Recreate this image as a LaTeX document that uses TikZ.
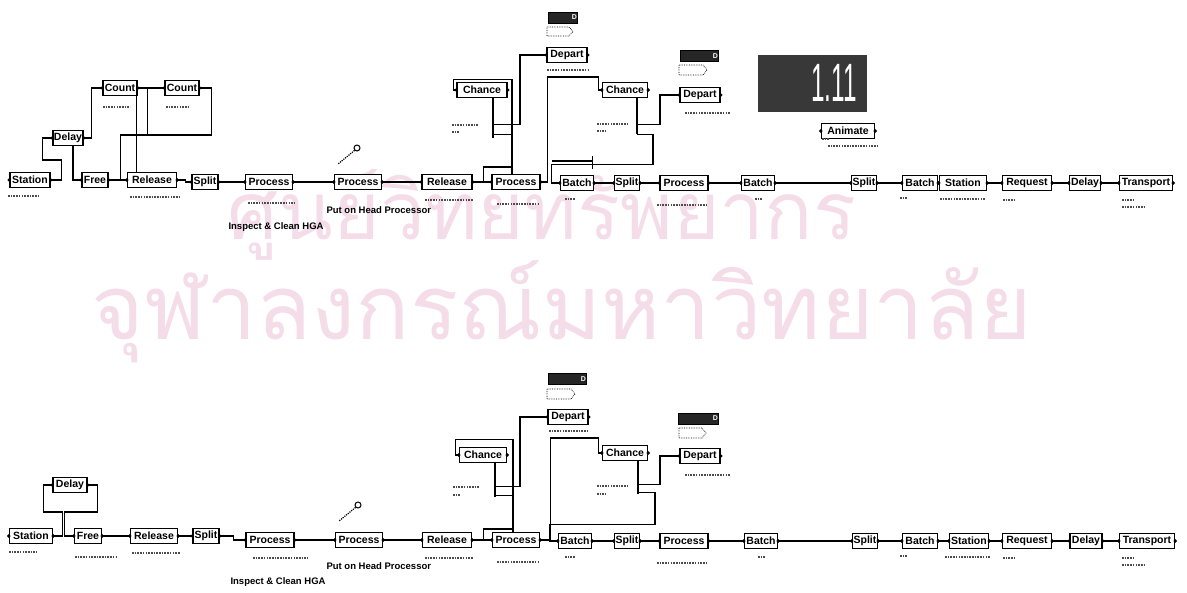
\documentclass[tikz,border=0pt]{standalone}
\usepackage{fontspec}
\setmainfont{Liberation Sans}
\newfontfamily\thaifont[Script=Thai]{Loma}
\usetikzlibrary{calc}
\definecolor{wmpink}{RGB}{244,221,233}
\tikzset{
  modbox/.style={draw,line width=1.5pt,fill=white,minimum height=15pt,inner xsep=0pt,inner ysep=1pt,
    font=\fontsize{10.5}{11}\selectfont\bfseries},
  lnk/.style={line width=1.2pt},
  smear/.style={line width=2.4pt,black!70,dash pattern=on 1.6pt off 1.1pt},
  darkbar/.style={fill=black!85,draw=black,inner sep=0pt,minimum height=11pt,text=white,align=right,
    font=\fontsize{7}{7}\selectfont\bfseries},
  tagline/.style={line width=0.7pt,densely dotted},
  undertext/.style={font=\fontsize{9.5}{10}\selectfont\bfseries},
  wm/.style={text=wmpink,anchor=base,font=\thaifont}
}

\begin{document}
\begin{tikzpicture}[x=1pt,y=-1pt]
\useasboundingbox (0,0) rectangle (1187,593);
% watermark
\node[wm,font=\thaifont\fontsize{80}{80}\selectfont] (wm1) at (542,240) {ศูนย์วิทยทรัพยากร};
\node[wm,font=\thaifont\fontsize{90}{90}\selectfont] (wm2) at (562,340) {จุฬาลงกรณ์มหาวิทยาลัย};

% ---------- upper model ----------
\node[modbox,minimum width=40] (sta1) at (30,180) {Station};
\node[modbox,minimum width=30] (dly1) at (68,138) {Delay};
\node[modbox,minimum width=34] (cnt1) at (120,88) {Count};
\node[modbox,minimum width=34] (cnt2) at (182,88) {Count};
\node[modbox,minimum width=26] (fre1) at (95,180) {Free};
\node[modbox,minimum width=49] (rel1) at (152,180) {Release};
\node[modbox,minimum width=26] (spl1) at (205,182) {Split};
\node[modbox,minimum width=47] (pro1) at (269,182) {Process};
\node[modbox,minimum width=47] (pro2) at (358,182) {Process};
\node[modbox,minimum width=50] (rel2) at (447,182) {Release};
\node[modbox,minimum width=48] (pro3) at (516,182) {Process};
\node[modbox,minimum width=33] (bat1) at (577,183) {Batch};
\node[modbox,minimum width=25] (spl2) at (627,183) {Split};
\node[modbox,minimum width=48] (pro4) at (684,183) {Process};
\node[modbox,minimum width=33] (bat2) at (758,183) {Batch};
\node[modbox,minimum width=25] (spl3) at (864,183) {Split};
\node[modbox,minimum width=35] (bat3) at (920,183) {Batch};
\node[modbox,minimum width=47] (sta2) at (963,183) {Station};
\node[modbox,minimum width=49] (req1) at (1027,183) {Request};
\node[modbox,minimum width=31] (dly2) at (1085,183) {Delay};
\node[modbox,minimum width=53] (trn1) at (1146,183) {Transport};
\node[modbox,minimum width=50] (chn1) at (482,90) {Chance};
\node[modbox,minimum width=45] (chn2) at (625,90) {Chance};
\node[modbox,minimum width=40] (dep1) at (567,55) {Depart};
\node[modbox,minimum width=40] (dep2) at (700,95) {Depart};
\node[modbox,minimum width=53] (ani1) at (848,131) {Animate};

\node[undertext,anchor=west] (put1) at (323,210) {Put on Head Processor};
\node[undertext,anchor=west] (ins1) at (225,227) {Inspect \& Clean HGA};

% counters and display
\node[darkbar,text width=29] (bar1) at (562.5,17.5) {D};
\draw[tagline] (547,27) -- (569,27) -- (573,31.5) -- (569,36) -- (547,36) -- cycle;
\node[darkbar,text width=38] (bar2) at (699,56) {D};
\draw[tagline] (679,65) -- (703,65) -- (707,70) -- (703,75) -- (679,75) -- cycle;
\node[fill=black!78,minimum width=109,minimum height=57,inner sep=0pt] (disp) at (812.5,83.5) {};
\node[text=white,font=\fontsize{54}{54}\selectfont] (dval) at (834,83) {\scalebox{0.45}[1]{1.11}};
\node[circle,draw,line width=1pt,inner sep=0pt,minimum size=6] (mag1) at (357,148) {};
\draw[lnk,densely dotted] (mag1.south west) -- (338,164);

% flow
\draw[lnk] (sta1.east) -- ++(11,0) -- ++(0,-20) -| ([xshift=-10pt]dly1.west) -- (dly1.west);
\draw[lnk] ([xshift=5pt]dly1.south) |- (fre1.west);
\draw[lnk] (dly1.east) -- ++(8,0) |- (cnt1.west);
\draw[lnk] (cnt1.east) -- (cnt2.west);
\draw[lnk] (cnt1.east) -- ++(10,0) -- ++(0,47);
\draw[lnk] ([xshift=-1pt]cnt1.south east) -- ([xshift=-1pt]cnt1.south east |- rel1.north);
\draw[lnk] (cnt2.east) -- ++(12,0) -- ++(0,47) -| ([xshift=-6pt]rel1.west) -- (rel1.west);
\draw[lnk] (fre1.east) -- (rel1.west);
\draw[lnk] (rel1.east) -- ++(8,0) |- (spl1.west);
\draw[lnk] (spl1) -- (pro1) -- (pro2) -- (rel2) -- (pro3);
\draw[lnk] ([xshift=11pt]rel2.east) -- ++(0,-15) -- ++(29,0);
\draw[lnk] ([xshift=-4pt]pro3.north) -- ++(0,-94) -| ([xshift=-3pt]chn1.west) -- (chn1.west);
\draw[lnk] ([xshift=11pt]chn1.south) -- ++(0,40);
\draw[lnk] ([xshift=11pt]chn1.south) ++(0,26) -- ++(27,0) |- (dep1.west);
\draw[lnk] ([xshift=11pt]chn1.south) ++(0,36) -- ++(19,0);
\draw[lnk] (pro3.east) -- ++(7,0) -- ++(0,-105) -| ([xshift=-3pt]chn2.west) -- (chn2.west);
\draw[lnk] ([xshift=12pt]chn2.south) -- ++(0,36);
\draw[lnk] ([xshift=12pt]chn2.south) ++(0,26) -- ++(23,0) |- (dep2.west);
\draw[lnk] ([xshift=12pt]chn2.south) ++(0,36) -- ++(16,0) -- ++(0,30) -| ([xshift=-8pt]bat1.west) -- (bat1.west);
\draw[lnk] ([xshift=-8pt]bat1.west) ++(0,-22) -- ++(41,0);
\draw[lnk] ([xshift=33pt]bat1.west) ++(0,-27) -- ++(0,13);
\draw[lnk] (bat1) -- (spl2) -- (pro4) -- (bat2) -- (spl3) -- (bat3) -- (sta2) -- (req1) -- (dly2) -- (trn1);

% labels under the modules
\foreach \a/\b/\c in {8/38/196, 130/180/197, 103/130/107, 166/188/107, 248/294/203, 425/473/200,
  497/540/204, 565/575/199, 657/706/205, 755/762/199, 900/908/198, 940/985/199, 1003/1014/200,
  1122/1134/200, 1122/1146/207, 547/588/70, 685/730/113, 822/830/139, 828/878/146,
  452/478/125, 452/460/132, 597/627/124, 597/606/131}
  \draw[smear] (\a,\c) -- (\b,\c);

% ---------- lower model ----------
\node[modbox,minimum width=43] (sta3) at (31,536) {Station};
\node[modbox,minimum width=34] (dly3) at (70,485) {Delay};
\node[modbox,minimum width=27] (fre2) at (88,536) {Free};
\node[modbox,minimum width=47] (rel3) at (154,536) {Release};
\node[modbox,minimum width=26] (spl4) at (206,536) {Split};
\node[modbox,minimum width=48] (pro5) at (270,540) {Process};
\node[modbox,minimum width=47] (pro6) at (359,540) {Process};
\node[modbox,minimum width=49] (rel4) at (447,540) {Release};
\node[modbox,minimum width=47] (pro7) at (516,540) {Process};
\node[modbox,minimum width=33] (bat4) at (575,541) {Batch};
\node[modbox,minimum width=25] (spl5) at (627,541) {Split};
\node[modbox,minimum width=48] (pro8) at (684,541) {Process};
\node[modbox,minimum width=33] (bat5) at (761,541) {Batch};
\node[modbox,minimum width=25] (spl6) at (865,541) {Split};
\node[modbox,minimum width=35] (bat6) at (920,541) {Batch};
\node[modbox,minimum width=39] (sta4) at (969,541) {Station};
\node[modbox,minimum width=49] (req2) at (1027,541) {Request};
\node[modbox,minimum width=32] (dly4) at (1086,541) {Delay};
\node[modbox,minimum width=55] (trn2) at (1147,541) {Transport};
\node[modbox,minimum width=47] (chn3) at (483,455) {Chance};
\node[modbox,minimum width=45] (chn4) at (625,453) {Chance};
\node[modbox,minimum width=40] (dep3) at (568,417) {Depart};
\node[modbox,minimum width=40] (dep4) at (700,456) {Depart};

\node[undertext,anchor=west] (put2) at (323,566) {Put on Head Processor};
\node[undertext,anchor=west] (ins2) at (227,582) {Inspect \& Clean HGA};

\node[darkbar,text width=38] (bar3) at (567,379) {D};
\draw[tagline] (547,389) -- (571,389) -- (575,394) -- (571,399) -- (547,399) -- cycle;
\node[darkbar,text width=40] (bar4) at (698,418.5) {D};
\draw[tagline] (679,428) -- (702,428) -- (706,433) -- (702,438) -- (679,438) -- cycle;
\node[circle,draw,line width=1pt,inner sep=0pt,minimum size=6] (mag2) at (358,505) {};
\draw[lnk,densely dotted] (mag2.south west) -- (339,521);

\draw[lnk] (sta3.east) -- ++(9,0) -- ++(0,-24) -| ([xshift=-9pt]dly3.west) -- (dly3.west);
\draw[lnk] (dly3.east) -- ++(10,0) -- ++(0,27) -| ([xshift=-9pt]fre2.west) -- (fre2.west);
\draw[lnk] (fre2) -- (rel3) -- (spl4);
\draw[lnk] (spl4.east) -- ++(14,0) |- (pro5.west);
\draw[lnk] (pro5) -- (pro6) -- (rel4) -- (pro7);
\draw[lnk] ([xshift=11pt]rel4.east) -- ++(0,-11) -- ++(30,0);
\draw[lnk] ([xshift=-3pt]pro7.north) -- ++(0,-92) -| ([xshift=-3pt]chn3.west) -- (chn3.west);
\draw[lnk] ([xshift=12pt]chn3.south) -- ++(0,34);
\draw[lnk] ([xshift=12pt]chn3.south) ++(0,23) -- ++(25,0) |- (dep3.west);
\draw[lnk] ([xshift=12pt]chn3.south) ++(0,32) -- ++(18,0);
\draw[lnk] (pro7.east) -- ++(10,0) -- ++(0,-102) -| ([xshift=-3pt]chn4.west) -- (chn4.west);
\draw[lnk] ([xshift=13pt]chn4.south) -- ++(0,33);
\draw[lnk] ([xshift=13pt]chn4.south) ++(0,23) -- ++(22,0) |- (dep4.west);
\draw[lnk] ([xshift=13pt]chn4.south) ++(0,31) -- ++(17,0) -- ++(0,32) -| ([xshift=-8pt]bat4.west) -- (bat4.west);
\draw[lnk] (bat4) -- (spl5) -- (pro8) -- (bat5) -- (spl6) -- (bat6) -- (sta4) -- (req2) -- (dly4) -- (trn2);

\foreach \a/\b/\c in {9/37/552, 75/117/557, 132/180/553, 253/308/558, 425/473/558, 497/540/562, 565/575/557,
  657/706/563, 758/765/557, 900/908/556, 945/990/557, 1003/1014/558, 1122/1134/558, 1122/1146/565,
  549/588/431, 685/730/475, 453/479/487, 453/461/495, 597/627/486, 597/606/494}
  \draw[smear] (\a,\c) -- (\b,\c);

% entry and exit points
\foreach \m in {sta1,dly1,cnt1,cnt2,fre1,rel1,spl1,pro1,pro2,rel2,pro3,bat1,spl2,pro4,bat2,spl3,bat3,
  sta2,req1,dly2,trn1,chn1,chn2,dep1,dep2,ani1,sta3,dly3,fre2,rel3,spl4,pro5,pro6,rel4,pro7,bat4,
  spl5,pro8,bat5,spl6,bat6,sta4,req2,dly4,trn2,chn3,chn4,dep3,dep4}
{
  \fill (\m.west) circle (1.9);
  \fill (\m.east) circle (1.9);
}
\end{tikzpicture}
\end{document}
